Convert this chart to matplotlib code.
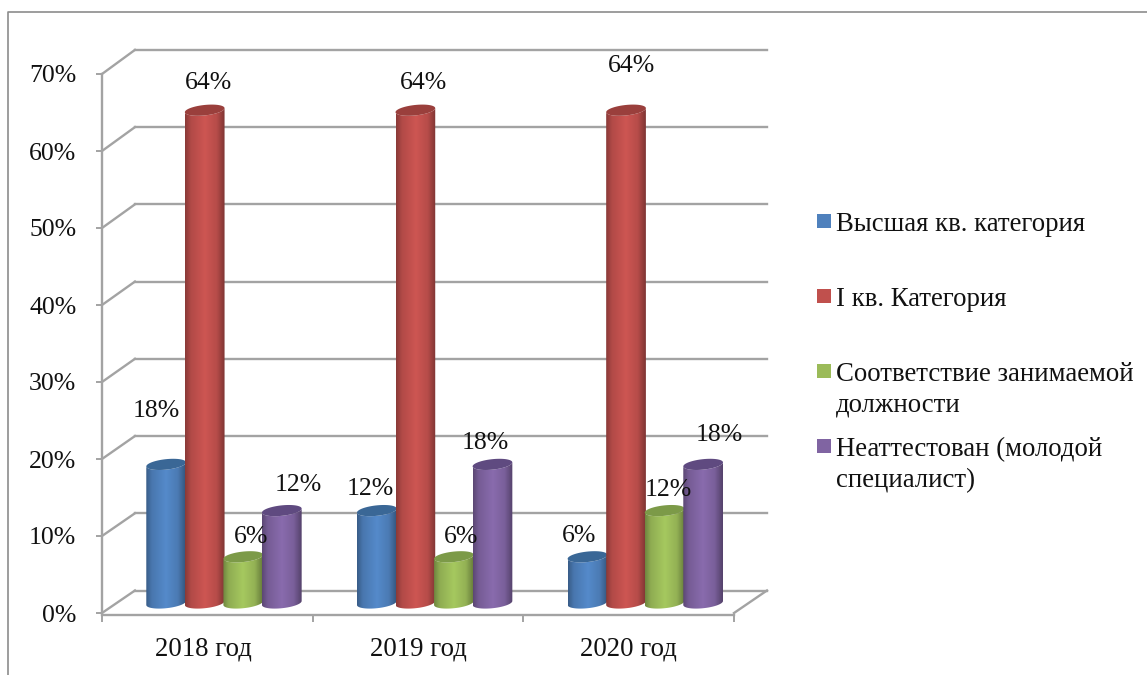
"""Staff qualification categories by year: fake-3D cylinder column chart."""
import matplotlib
matplotlib.use("Agg")
import matplotlib.pyplot as plt
import numpy as np
from matplotlib.patches import PathPatch, Rectangle
from matplotlib.path import Path
from matplotlib.transforms import Affine2D

plt.rcParams["font.family"] = ["Liberation Serif", "DejaVu Serif"]

W, H = 1147, 675
GREY = "#a3a3a3"
FS = 18.5
FS_BIG = 19.3

years = ["2018 год", "2019 год", "2020 год"]
series_names = [
    "Высшая кв. категория",
    "I кв. Категория",
    "Соответствие занимаемой\nдолжности",
    "Неаттестован (молодой\nспециалист)",
]
vysshaya = [18, 12, 6]
pervaya = [64, 64, 64]
sootv = [6, 6, 12]
neattest = [12, 18, 18]
series_values = [vysshaya, pervaya, sootv, neattest]
y_ticks = [0, 10, 20, 30, 40, 50, 60, 70]

colours = ["#4f81bd", "#c0504d", "#9bbb59", "#8064a2"]
tops = ["#3a6796", "#9a3f3c", "#7c9a48", "#5f4a80"]

# label nudges in px from the top of each cylinder, the source placed them by hand
label_nudge = [
    [(-10, 53), (-7, 22), (-8, 21)],
    [(4, 27), (8, 27), (5, 44)],
    [(8, 20), (7, 20), (4, 21)],
    [(16, 26), (-7, 21), (16, 29)],
]

# plot area of the front plane, in px
LEFT, RIGHT, TOP, BOTTOM = 102, 734, 74, 613
DEPTH_X = 33 / 211          # back wall shift, data units
DEPTH_Y = 22.5 / 7.7
BACK_SCALE = 1.003          # back wall is a touch taller than the front plane
BASE = 1.3                  # cylinders stand mid floor
BAR_W = 0.183
GROUP_START = 0.579 - 2 * BAR_W + BAR_W / 2
CAP_B = 0.68                # ellipse half height
CAP_TILT = 0.26


def ellipse_pts(xc, yc, half, upper, n=30):
    """Half of the tilted ellipse, running left to right."""
    t = np.linspace(np.pi, 0, n)
    sign = 1 if upper else -1
    return (xc + half * np.cos(t),
            yc + sign * CAP_B * np.sin(t) + CAP_TILT * np.cos(t))


def cylinder(ax, xc, value, colour, top_colour, z):
    half = BAR_W / 2 * 1.03
    y_top = BASE + value
    x_b, y_b = ellipse_pts(xc, BASE, half, False)
    x_t, y_t = ellipse_pts(xc, y_top, half, False)
    body = np.r_[np.c_[x_b, y_b], np.c_[x_t, y_t][::-1], [[x_b[0], y_b[0]]]]

    # horizontal shading across the body
    rgb = np.array(matplotlib.colors.to_rgb(colour))
    pos = np.linspace(0, 1, 64)
    shade = np.interp(pos, [0, 0.14, 0.5, 0.8, 1], [0.72, 0.92, 1.07, 0.95, 0.66])
    img = np.clip(rgb[None, None, :] * shade[None, :, None], 0, 1)
    im = ax.imshow(img, extent=(xc - half, xc + half, BASE - 1.2, y_top + 1.2),
                   aspect="auto", interpolation="bilinear", zorder=z, clip_on=True)
    patch = PathPatch(Path(body), transform=ax.transData, fc="none", ec="none")
    ax.add_patch(patch)
    im.set_clip_path(patch)

    x_u, y_u = ellipse_pts(xc, y_top, half, True)
    cap = np.r_[np.c_[x_u, y_u], np.c_[x_t, y_t][::-1]]
    ax.fill(cap[:, 0], cap[:, 1], color=top_colour, lw=0, zorder=z + 0.1)


def main():
    fig = plt.figure(figsize=(W / 100, H / 100), dpi=100, facecolor="white")

    # px overlay for the outer border and the legend
    bg = fig.add_axes([0, 0, 1, 1], zorder=0)
    bg.set_xlim(0, W)
    bg.set_ylim(H, 0)
    bg.axis("off")
    bg.plot([8, 8, W], [H, 12, 12], color="#8c8c8c", lw=1.2)

    legend_y = [222, 297, 372, 447]
    for name, colour, ly in zip(series_names, colours, legend_y):
        bg.add_patch(Rectangle((817, ly - 8), 14, 14, fc=colour, ec="none"))
        bg.text(836, ly - 10, name, fontsize=FS_BIG, va="top", ha="left",
                color="#111111", linespacing=1.3)

    ax = fig.add_axes([LEFT / W, 1 - BOTTOM / H, (RIGHT - LEFT) / W, (BOTTOM - TOP) / H],
                      zorder=1)
    ax.patch.set_alpha(0)
    ax.set_xlim(0, len(years))
    ax.set_ylim(0, 70)

    # back wall, side wall and floor
    for v in y_ticks:
        back = v * BACK_SCALE + DEPTH_Y
        ax.plot([0, DEPTH_X], [v, back], color=GREY, lw=1.7, clip_on=False, zorder=1)
        ax.plot([DEPTH_X, 3 + DEPTH_X], [back, back], color=GREY, lw=1.7,
                clip_on=False, zorder=1)
    ax.plot([3, 3 + DEPTH_X], [0, DEPTH_Y], color=GREY, lw=1.7, clip_on=False, zorder=1)

    for s, values in enumerate(series_values):
        for g, v in enumerate(values):
            xc = g + GROUP_START + s * BAR_W
            cylinder(ax, xc, v, colours[s], tops[s], 3 + s)
            dx, dy = label_nudge[s][g]
            ax.annotate(f"{v}%", (xc, BASE + v), xytext=(dx, dy), textcoords="offset pixels",
                        ha="center", va="center", fontsize=FS, color="#111111",
                        annotation_clip=False, zorder=10)

    ax.set_xlim(0, len(years))
    ax.set_ylim(0, 70)

    for side in ("top", "right"):
        ax.spines[side].set_visible(False)
    for side in ("left", "bottom"):
        ax.spines[side].set_color(GREY)
        ax.spines[side].set_linewidth(1.7)
    ax.spines["bottom"].set_position(("outward", 1.5))

    ax.set_yticks(y_ticks)
    ax.set_yticklabels([f"{v}%" for v in y_ticks], va="center_baseline")
    ax.tick_params(axis="y", length=4.5, width=1.4, color=GREY, pad=14,
                   labelsize=FS, labelcolor="#111111")

    ax.set_xticks(range(len(years) + 1))
    ax.set_xticklabels([])
    ax.set_xticks(np.arange(len(years)) + 0.5, minor=True)
    x_labels = ax.set_xticklabels(years, minor=True)
    ax.tick_params(axis="x", which="major", length=5, width=1.4, color=GREY)
    ax.tick_params(axis="x", which="minor", length=0, pad=15.5, labelsize=FS_BIG,
                   labelcolor="#111111")
    # the first year label sits a little left of its group in the source
    x_labels[0].set_transform(x_labels[0].get_transform() + Affine2D().translate(-4, 0))

    fig.savefig("out.png", dpi=100, facecolor="white")
    plt.close(fig)


if __name__ == "__main__":
    main()
